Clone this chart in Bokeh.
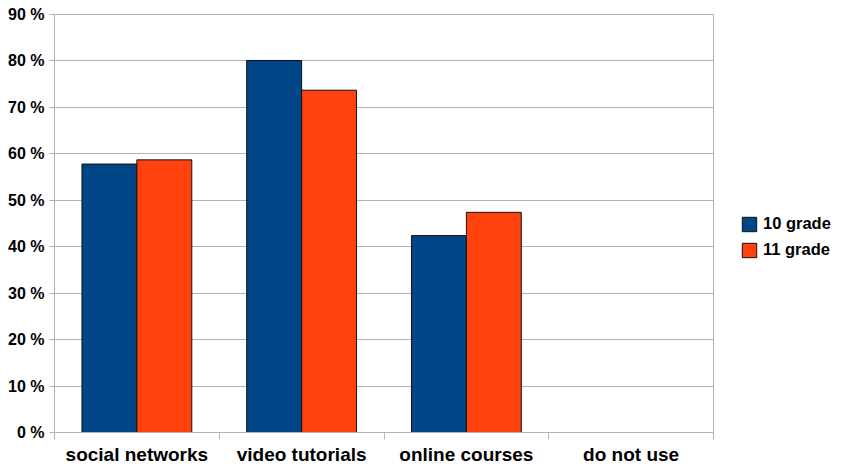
from bokeh.plotting import figure
from bokeh.models import (Range1d, FixedTicker, PrintfTickFormatter, Legend, LegendItem,
                          ColumnDataSource)
from bokeh.transform import dodge
from bokeh.embed import file_html
from bokeh.resources import INLINE

categories = ["social networks", "video tutorials", "online courses", "do not use"]
grade10 = [57.8, 80.1, 42.4, 0.0]
grade11 = [58.7, 73.7, 47.4, 0.0]
series_names = ["10 grade", "11 grade"]
y_ticks = [0, 10, 20, 30, 40, 50, 60, 70, 80, 90]

BLUE = "#004586"
ORANGE = "#ff420e"
GRID = "#b3b3b3"
FONT = "Liberation Sans"

centers = [i + 0.5 for i in range(len(categories))]
src = ColumnDataSource(dict(x=centers, g10=grade10, g11=grade11))

p = figure(frame_width=659, frame_height=418, min_border_left=54, min_border_top=14,
           min_border_right=125, min_border_bottom=30,
           x_range=Range1d(0, len(categories)), y_range=Range1d(0, 90),
           output_backend="svg", toolbar_location=None)

r1 = p.vbar(x=dodge("x", -1/6, range=p.x_range), top="g10", width=1/3, source=src,
            fill_color=BLUE, line_color="#111111", line_width=1)
r2 = p.vbar(x=dodge("x", 1/6, range=p.x_range), top="g11", width=1/3, source=src,
            fill_color=ORANGE, line_color="#111111", line_width=1)

# x axis: labels at category centres, ticks at category boundaries
p.xaxis.ticker = FixedTicker(ticks=centers, minor_ticks=list(range(len(categories) + 1)))
p.xaxis.major_label_overrides = {c: lab for c, lab in zip(centers, categories)}
p.xaxis.major_tick_out = 0
p.xaxis.major_tick_in = 0
p.xaxis.minor_tick_out = 7
p.xaxis.minor_tick_in = 0
p.xaxis.minor_tick_line_color = GRID
p.xaxis.major_label_standoff = 4
p.xaxis.major_label_text_font = FONT
p.xaxis.major_label_text_font_style = "bold"
p.xaxis.major_label_text_font_size = "19px"
p.xaxis.major_label_text_color = "black"
p.xaxis.axis_line_color = GRID

p.yaxis.ticker = FixedTicker(ticks=y_ticks)
p.yaxis.formatter = PrintfTickFormatter(format="%d %%")
p.yaxis.major_tick_out = 5
p.yaxis.major_tick_in = 0
p.yaxis.minor_tick_line_color = None
p.yaxis.major_tick_line_color = GRID
p.yaxis.axis_line_color = GRID
p.yaxis.major_label_standoff = 5
p.yaxis.major_label_text_font = FONT
p.yaxis.major_label_text_font_style = "bold"
p.yaxis.major_label_text_font_size = "16px"
p.yaxis.major_label_text_color = "black"

p.xgrid.grid_line_color = None
p.ygrid.ticker = FixedTicker(ticks=y_ticks)
p.ygrid.grid_line_color = GRID
p.outline_line_color = GRID
p.outline_line_width = 1
p.background_fill_color = "white"
p.border_fill_color = "white"

legend = Legend(items=[LegendItem(label=series_names[0], renderers=[r1]),
                       LegendItem(label=series_names[1], renderers=[r2])],
                location=(27, 173), padding=0, margin=0, spacing=7,
                glyph_width=18, glyph_height=18, label_height=18, label_standoff=5,
                border_line_alpha=0, background_fill_alpha=0,
                label_text_font=FONT, label_text_font_style="bold",
                label_text_font_size="16.5px", label_text_color="black")
p.add_layout(legend, "right")

open("out.html", "w").write(file_html(p, INLINE))
